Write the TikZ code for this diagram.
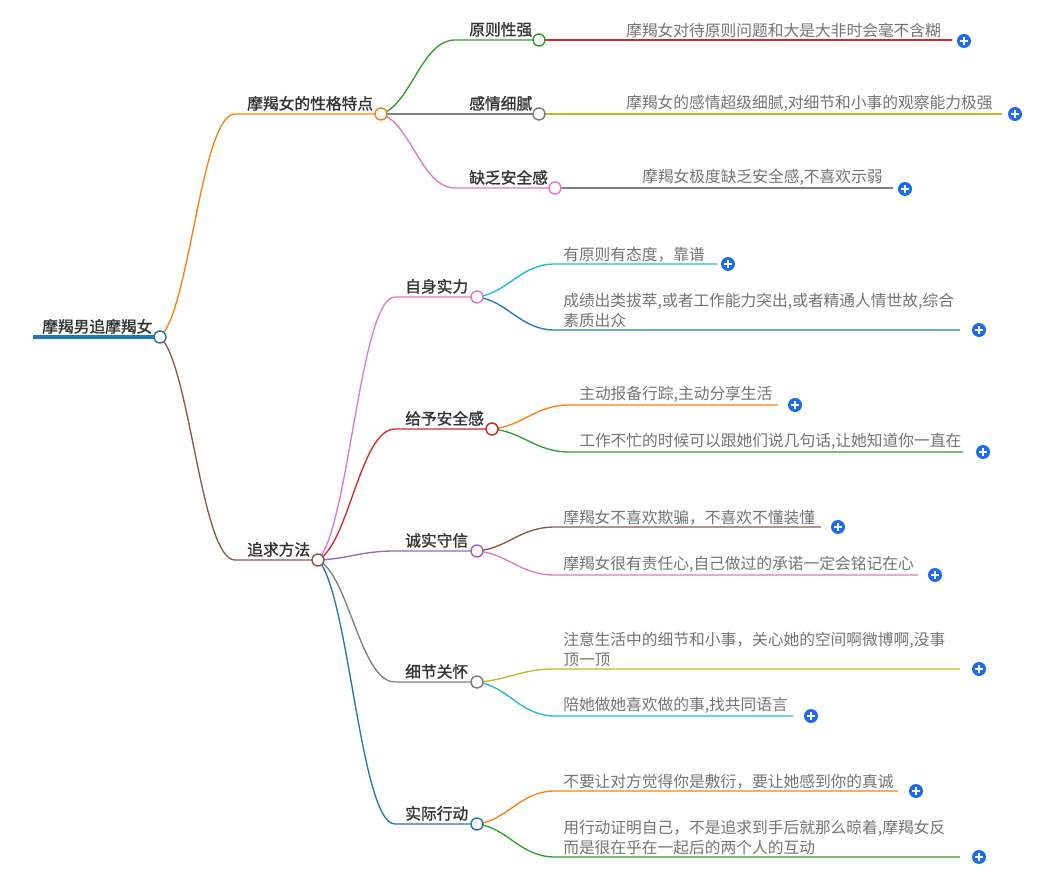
\documentclass[tikz,border=0pt]{standalone}
\usepackage{fontspec}
\usetikzlibrary{calc,backgrounds}
\setmainfont{Noto Sans CJK SC}
\newfontfamily\lblfont{Noto Sans CJK SC}[FakeBold=1.2]
\definecolor{cblue}{HTML}{1F77B4}
\definecolor{corange}{HTML}{FF7F0E}
\definecolor{cgreen}{HTML}{2CA02C}
\definecolor{cred}{HTML}{D62728}
\definecolor{cpurple}{HTML}{9467BD}
\definecolor{cbrown}{HTML}{8C564B}
\definecolor{cpink}{HTML}{E377C2}
\definecolor{cgray}{HTML}{7F7F7F}
\definecolor{colive}{HTML}{BCBD22}
\definecolor{ccyan}{HTML}{17BECF}
\definecolor{plusblue}{HTML}{1F6BEF}
\definecolor{lbltext}{HTML}{333333}
\definecolor{leaftext}{HTML}{737373}
\begin{document}
\begin{tikzpicture}[x=0.75pt,y=-0.75pt,
  dot/.style={circle,draw,fill=white,line width=1.1pt,minimum size=9pt,inner sep=0pt},
  lbl/.style={anchor=south west,inner sep=0pt,text=lbltext,font=\lblfont\fontsize{11.8}{14}\selectfont},
  rootlbl/.style={anchor=south west,inner sep=0pt,text=lbltext,font=\lblfont\fontsize{11.8}{14}\selectfont},
  leaf/.style={anchor=south west,inner sep=0pt,text=leaftext,align=left,font=\fontsize{11.8}{15}\selectfont},
  conn/.style={line width=1pt},
  link/.style={to path={.. controls ($0.6*(\tikztostart)+0.12*(\tikztotarget)+0.28*(\tikztotarget |- \tikztostart)$) and ($(\tikztotarget)!0.45!(\tikztostart |- \tikztotarget)$) .. (\tikztotarget) \tikztonodes}},
  plusbtn/.style={circle,fill=plusblue,minimum size=10.5pt,inner sep=0pt,
    path picture={\draw[white,line width=1.1pt]
      ([xshift=-2.8pt]path picture bounding box.center) -- ([xshift=2.8pt]path picture bounding box.center)
      ([yshift=-2.8pt]path picture bounding box.center) -- ([yshift=2.8pt]path picture bounding box.center);}}
]
\useasboundingbox (0,0) rectangle (1051,873);

% ---------- nodes ----------
\coordinate (rootL) at (33,337);
\node[dot,draw=cblue] (root) at (160,337) {};
\node[rootlbl] (rootT) at (42,334) {摩羯男追摩羯女};

\node[dot,draw=corange] (b1) at (381,114) {};
\coordinate (b1h) at (235,114);
\node[lbl] (b1T) at (247,111) {摩羯女的性格特点};

\node[dot,draw=cgreen] (p1) at (539,40) {};
\coordinate (p1h) at (455,40);
\node[lbl] (p1T) at (469,37) {原则性强};

\node[dot,draw=cgray] (p2) at (539,114) {};
\node[lbl] (p2T) at (469,111) {感情细腻};

\node[dot,draw=cpink] (p3) at (555,188) {};
\coordinate (p3h) at (455,188);
\node[lbl] (p3T) at (469,185) {缺乏安全感};

\coordinate (p1e) at (952,40);
\node[leaf] (p1L) at (626,38) {摩羯女对待原则问题和大是大非时会毫不含糊};
\node[plusbtn] (p1P) at (964,41) {};

\coordinate (p2e) at (1002,114);
\node[leaf] (p2L) at (626,112) {摩羯女的感情超级细腻,对细节和小事的观察能力极强};
\node[plusbtn] (p2P) at (1015,114) {};

\coordinate (p3e) at (893,188);
\node[leaf] (p3L) at (642,186) {摩羯女极度缺乏安全感,不喜欢示弱};
\node[plusbtn] (p3P) at (905,189) {};

\node[dot,draw=cbrown] (b2) at (318,560) {};
\coordinate (b2h) at (235,560);
\node[lbl] (b2T) at (247,557) {追求方法};

\node[dot,draw=cpink] (q1) at (477,297) {};
\coordinate (q1h) at (395,297);
\node[lbl] (q1T) at (405,294) {自身实力};

\node[dot,draw=cred] (q2) at (492,429) {};
\coordinate (q2h) at (395,429);
\node[lbl] (q2T) at (405,426) {给予安全感};

\node[dot,draw=cpurple] (q3) at (477,551) {};
\coordinate (q3h) at (395,551);
\node[lbl] (q3T) at (405,548) {诚实守信};

\node[dot,draw=cgray] (q4) at (477,682) {};
\coordinate (q4h) at (395,682);
\node[lbl] (q4T) at (405,679) {细节关怀};

\node[dot,draw=cblue] (q5) at (477,824) {};
\coordinate (q5h) at (395,824);
\node[lbl] (q5T) at (405,821) {实际行动};

\coordinate (a1h) at (555,264); \coordinate (a1e) at (717,264);
\node[leaf] (a1L) at (563,262) {有原则有态度，靠谱};
\node[plusbtn] (a1P) at (728,264) {};

\coordinate (a2h) at (555,330); \coordinate (a2e) at (960,330);
\node[leaf] (a2L) at (563,328) {成绩出类拔萃,或者工作能力突出,或者精通人情世故,综合\\素质出众};
\node[plusbtn] (a2P) at (979,330) {};

\coordinate (a3h) at (570,405); \coordinate (a3e) at (778,405);
\node[leaf] (a3L) at (579,403) {主动报备行踪,主动分享生活};
\node[plusbtn] (a3P) at (795,405) {};

\coordinate (a4h) at (570,452); \coordinate (a4e) at (963,452);
\node[leaf] (a4L) at (579,450) {工作不忙的时候可以跟她们说几句话,让她知道你一直在};
\node[plusbtn] (a4P) at (983,452) {};

\coordinate (a5h) at (555,527); \coordinate (a5e) at (821,527);
\node[leaf] (a5L) at (563,525) {摩羯女不喜欢欺骗，不喜欢不懂装懂};
\node[plusbtn] (a5P) at (838,527) {};

\coordinate (a6h) at (555,575); \coordinate (a6e) at (918,575);
\node[leaf] (a6L) at (563,573) {摩羯女很有责任心,自己做过的承诺一定会铭记在心};
\node[plusbtn] (a6P) at (935,575) {};

\coordinate (a7h) at (555,669); \coordinate (a7e) at (960,669);
\node[leaf] (a7L) at (563,667) {注意生活中的细节和小事，关心她的空间啊微博啊,没事\\顶一顶};
\node[plusbtn] (a7P) at (979,669) {};

\coordinate (a8h) at (555,716); \coordinate (a8e) at (793,716);
\node[leaf] (a8L) at (563,714) {陪她做她喜欢做的事,找共同语言};
\node[plusbtn] (a8P) at (811,716) {};

\coordinate (a9h) at (555,791); \coordinate (a9e) at (898,791);
\node[leaf] (a9L) at (563,789) {不要让对方觉得你是敷衍，要让她感到你的真诚};
\node[plusbtn] (a9P) at (916,791) {};

\coordinate (a10h) at (555,857); \coordinate (a10e) at (960,857);
\node[leaf] (a10L) at (563,855) {用行动证明自己，不是追求到手后就那么晾着,摩羯女反\\而是很在乎在一起后的两个人的互动};
\node[plusbtn] (a10P) at (979,857) {};

% ---------- connectors (behind the dots) ----------
\begin{scope}[on background layer]
\draw[cblue,line width=3pt] (rootL) -- (root.center);
\draw[conn,corange] (root.center) to[link] (b1h) -- (b1.center);
\draw[conn,cbrown] (root.center) to[link] (b2h) -- (b2.center);

\draw[conn,cgreen] (b1.center) to[link] (p1h) -- (p1.center);
\draw[conn,cgray] (b1.center) -- (p2.center);
\draw[conn,cpink] (b1.center) to[link] (p3h) -- (p3.center);

\draw[conn,cred] (p1.center) -- (p1e);
\draw[conn,colive] (p2.center) -- (p2e);
\draw[conn,cgray] (p3.center) -- (p3e);

\draw[conn,cpink] (b2.center) to[link] (q1h) -- (q1.center);
\draw[conn,cred] (b2.center) to[link] (q2h) -- (q2.center);
\draw[conn,cpurple] (b2.center) to[link] (q3h) -- (q3.center);
\draw[conn,cgray] (b2.center) to[link] (q4h) -- (q4.center);
\draw[conn,cblue] (b2.center) to[link] (q5h) -- (q5.center);

\draw[conn,ccyan] (q1.center) to[link] (a1h) -- (a1e);
\draw[conn,cblue] (q1.center) to[link] (a2h) -- (a2e);
\draw[conn,corange] (q2.center) to[link] (a3h) -- (a3e);
\draw[conn,cgreen] (q2.center) to[link] (a4h) -- (a4e);
\draw[conn,cbrown] (q3.center) to[link] (a5h) -- (a5e);
\draw[conn,cpink] (q3.center) to[link] (a6h) -- (a6e);
\draw[conn,colive] (q4.center) to[link] (a7h) -- (a7e);
\draw[conn,ccyan] (q4.center) to[link] (a8h) -- (a8e);
\draw[conn,corange] (q5.center) to[link] (a9h) -- (a9e);
\draw[conn,cgreen] (q5.center) to[link] (a10h) -- (a10e);
\end{scope}
\end{tikzpicture}
\end{document}
